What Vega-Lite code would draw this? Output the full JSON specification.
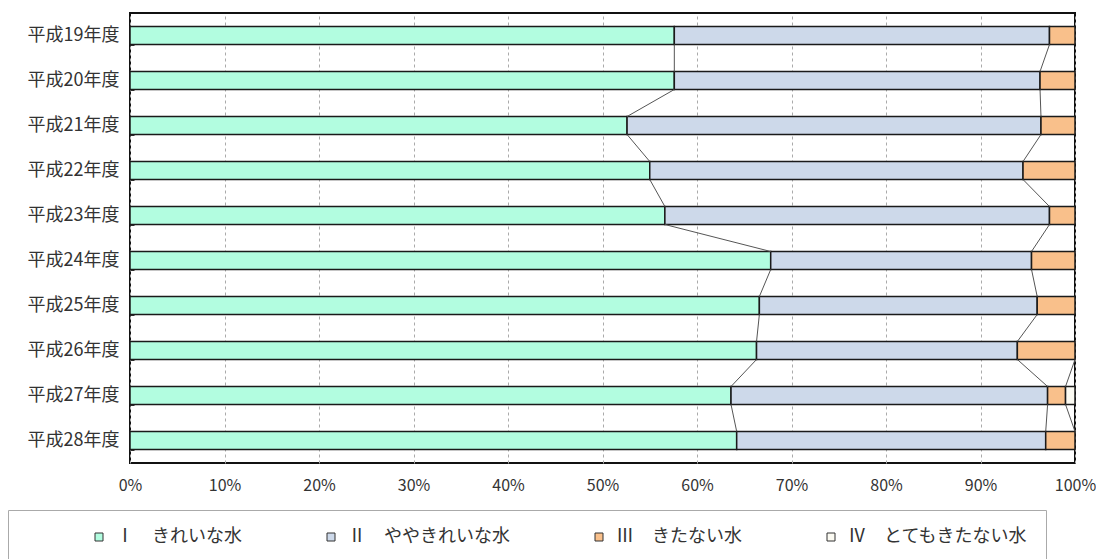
{
  "$schema": "https://vega.github.io/schema/vega-lite/v6.json",
  "padding": {"left": 7, "top": 4, "right": 0, "bottom": 0},
  "config": {"font": "Noto Sans CJK JP", "view": {"stroke": "#111", "strokeWidth": 2}},
  "width": 945,
  "height": 450,
  "data": {
    "values": [
      {"year": "平成19年度", "cat": "Ⅰ　きれいな水", "pct": 57.6},
      {"year": "平成19年度", "cat": "Ⅱ　ややきれいな水", "pct": 39.7},
      {"year": "平成19年度", "cat": "Ⅲ　きたない水", "pct": 2.7},
      {"year": "平成20年度", "cat": "Ⅰ　きれいな水", "pct": 57.6},
      {"year": "平成20年度", "cat": "Ⅱ　ややきれいな水", "pct": 38.7},
      {"year": "平成20年度", "cat": "Ⅲ　きたない水", "pct": 3.7},
      {"year": "平成21年度", "cat": "Ⅰ　きれいな水", "pct": 52.6},
      {"year": "平成21年度", "cat": "Ⅱ　ややきれいな水", "pct": 43.8},
      {"year": "平成21年度", "cat": "Ⅲ　きたない水", "pct": 3.6},
      {"year": "平成22年度", "cat": "Ⅰ　きれいな水", "pct": 55.0},
      {"year": "平成22年度", "cat": "Ⅱ　ややきれいな水", "pct": 39.5},
      {"year": "平成22年度", "cat": "Ⅲ　きたない水", "pct": 5.5},
      {"year": "平成23年度", "cat": "Ⅰ　きれいな水", "pct": 56.6},
      {"year": "平成23年度", "cat": "Ⅱ　ややきれいな水", "pct": 40.7},
      {"year": "平成23年度", "cat": "Ⅲ　きたない水", "pct": 2.7},
      {"year": "平成24年度", "cat": "Ⅰ　きれいな水", "pct": 67.8},
      {"year": "平成24年度", "cat": "Ⅱ　ややきれいな水", "pct": 27.6},
      {"year": "平成24年度", "cat": "Ⅲ　きたない水", "pct": 4.6},
      {"year": "平成25年度", "cat": "Ⅰ　きれいな水", "pct": 66.6},
      {"year": "平成25年度", "cat": "Ⅱ　ややきれいな水", "pct": 29.4},
      {"year": "平成25年度", "cat": "Ⅲ　きたない水", "pct": 4.0},
      {"year": "平成26年度", "cat": "Ⅰ　きれいな水", "pct": 66.3},
      {"year": "平成26年度", "cat": "Ⅱ　ややきれいな水", "pct": 27.6},
      {"year": "平成26年度", "cat": "Ⅲ　きたない水", "pct": 6.1},
      {"year": "平成27年度", "cat": "Ⅰ　きれいな水", "pct": 63.6},
      {"year": "平成27年度", "cat": "Ⅱ　ややきれいな水", "pct": 33.5},
      {"year": "平成27年度", "cat": "Ⅲ　きたない水", "pct": 1.9},
      {"year": "平成27年度", "cat": "Ⅳ　とてもきたない水", "pct": 1.0},
      {"year": "平成28年度", "cat": "Ⅰ　きれいな水", "pct": 64.2},
      {"year": "平成28年度", "cat": "Ⅱ　ややきれいな水", "pct": 32.7},
      {"year": "平成28年度", "cat": "Ⅲ　きたない水", "pct": 3.1}
    ]
  },
  "layer": [
    {
      "mark": {"type": "bar", "stroke": "#1a1a1a", "strokeWidth": 1.5},
      "encoding": {
        "y": {
          "field": "year", "type": "nominal", "title": null,
          "scale": {"paddingInner": 0.6, "paddingOuter": 0.3},
          "axis": {"domain": false, "labelFontSize": 18, "labelColor": "#333", "labelPadding": 15, "tickBand": "extent", "tickSize": -4, "tickColor": "#333"}
        },
        "x": {
          "field": "pct", "type": "quantitative", "stack": "zero", "title": null,
          "scale": {"domain": [0, 100], "nice": false},
          "axis": {"values": [0, 10, 20, 30, 40, 50, 60, 70, 80, 90, 100], "labelExpr": "datum.value + '%'", "domain": false, "ticks": false, "labelFontSize": 16, "labelColor": "#333", "labelPadding": 14, "gridDash": [3, 3], "gridColor": "#aaa", "labelFlush": false}
        },
        "color": {
          "field": "cat", "type": "nominal",
          "scale": {"domain": ["Ⅰ　きれいな水", "Ⅱ　ややきれいな水", "Ⅲ　きたない水", "Ⅳ　とてもきたない水"], "range": ["#b2fde0", "#cdd9ea", "#f9c08b", "#fbfaf2"]},
          "legend": {
            "orient": "none", "legendX": -122, "legendY": 497,
            "direction": "horizontal", "columns": 4,
            "title": " ", "titleOrient": "left", "titleFontSize": 1, "titlePadding": 64,
            "strokeColor": "#aaa", "padding": 18,
            "symbolType": "square", "symbolSize": 64, "symbolStrokeColor": "#333", "symbolStrokeWidth": 1,
            "labelFontSize": 18, "labelColor": "#333", "labelOffset": 8, "labelLimit": 400, "columnPadding": 80,
            "labelExpr": "datum.label + (datum.value == 'Ⅳ　とてもきたない水' ? '　　　　　　' : '')"
          }
        }
      }
    },
    {
      "transform": [
        {"stack": "pct", "groupby": ["year"], "sort": [{"field": "cat"}], "as": ["v0", "v1"]},
        {"window": [{"op": "lead", "field": "v1", "as": "next_v1"}, {"op": "lead", "field": "year", "as": "next_year"}], "groupby": ["cat"], "sort": [{"field": "year"}]},
        {"filter": "datum.next_year != null && datum.v1 < 100 || datum.next_year != null && datum.next_v1 < 100"}
      ],
      "mark": {"type": "rule", "color": "#555", "strokeWidth": 1},
      "encoding": {
        "x": {"field": "v1", "type": "quantitative"},
        "x2": {"field": "next_v1"},
        "y": {"field": "year", "type": "nominal", "bandPosition": 1},
        "y2": {"field": "next_year", "bandPosition": 0}
      }
    }
  ]
}
